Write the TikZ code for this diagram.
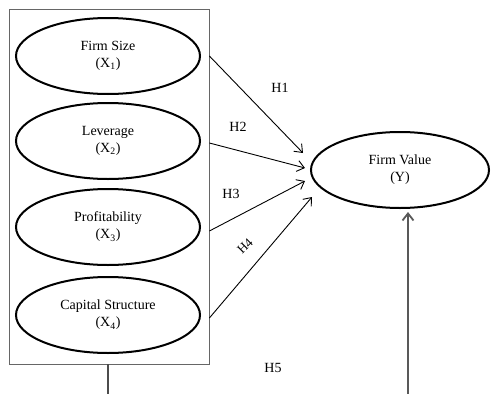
\documentclass[tikz,border=0pt]{standalone}
\usepackage{fontspec}
\setmainfont{Liberation Serif}
\usetikzlibrary{shapes.geometric,arrows.meta}
\begin{document}
\begin{tikzpicture}[x=1pt,y=-1pt,
  var/.style={draw, ellipse, line width=2pt, minimum width=184pt, minimum height=76pt, inner sep=0pt, align=center, font=\fontsize{14}{17}\selectfont},
  conn/.style={line width=0.9pt, -{Straight Barb[length=7pt,width=11pt]}},
  hlab/.style={font=\fontsize{14}{17}\selectfont, inner sep=0pt}]
\useasboundingbox (0,0) rectangle (491,394);
\node[draw=gray!80!black, line width=0.8pt, minimum width=200pt, minimum height=355pt, inner sep=0pt] (box) at (109,186.5) {};
\node[var] (fs) at (108,56) {Firm Size\\(X\textsubscript{1})};
\node[var] (lv) at (108,141) {Leverage\\(X\textsubscript{2})};
\node[var] (pr) at (108,227) {Profitability\\(X\textsubscript{3})};
\node[var] (cs) at (108,315) {Capital Structure\\(X\textsubscript{4})};
\node[var, minimum width=178pt] (fv) at (400,170) {Firm Value\\(Y)};
\coordinate (e1) at (303,153);
\coordinate (e2) at (305,168);
\coordinate (e3) at (305,181);
\coordinate (e4) at (312,197);
\coordinate (e5) at (408,212);
\coordinate (s5) at (408,394);
\coordinate (b0) at (108,394);
\draw[conn] (box.east |- fs) -- (e1);
\draw[conn] (box.east |- 0,143) -- (e2);
\draw[conn] (box.east |- 0,231) -- (e3);
\draw[conn] (box.east |- 0,318) -- (e4);
\draw[gray!60!black, line width=1.2pt] (box.south -| b0) -- (b0);
\draw[conn, gray!70!black, line width=1.8pt] (s5) -- (e5);
\node[hlab] (h1) at (280,88) {H1};
\node[hlab] (h2) at (238,127) {H2};
\node[hlab] (h3) at (231,194) {H3};
\node[hlab, rotate=45, font=\fontsize{13}{15}\selectfont] (h4) at (245,246) {H4};
\node[hlab] (h5) at (273,368) {H5};
\end{tikzpicture}
\end{document}
